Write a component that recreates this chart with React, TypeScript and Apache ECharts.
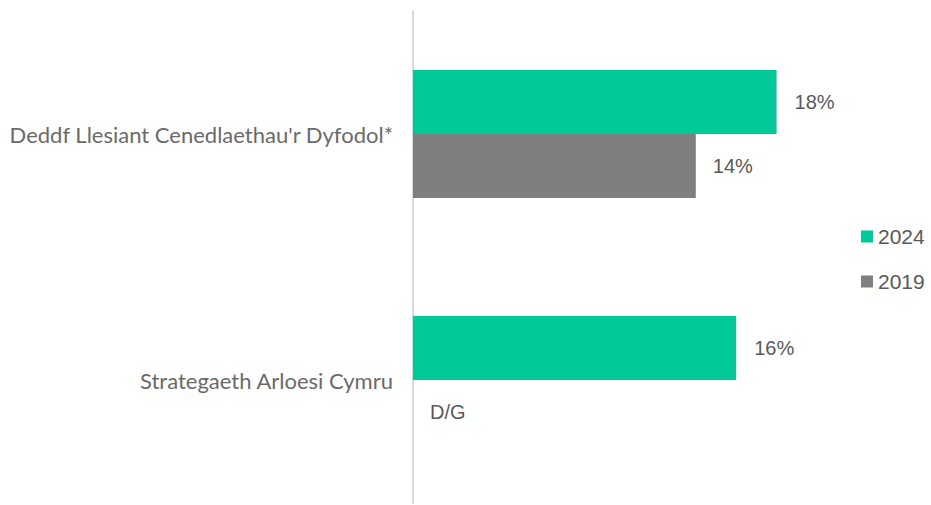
import React, { useEffect, useRef } from "react";
import * as echarts from "echarts";

const categories = ["Deddf Llesiant Cenedlaethau'r Dyfodol*", "Strategaeth Arloesi Cymru"];
const series2024 = [18, 16];
const series2019: (number | null)[] = [14, 0];
const labels2019 = ["14%", "D/G"];
const seriesNames = ["2024", "2019"];

export default function App() {
  const ref = useRef<HTMLDivElement>(null);
  useEffect(() => {
    const chart = echarts.init(ref.current!, null, { renderer: "svg" });
    chart.setOption({
      animation: false,
      grid: { left: 413, top: 11, bottom: 2, width: 404 },
      legend: {
        orient: "vertical",
        left: 861,
        top: 226,
        padding: 0,
        itemWidth: 12,
        itemHeight: 12,
        itemGap: 24,
        icon: "rect",
        textStyle: { fontFamily: "Liberation Sans", fontSize: 21, color: "#595959" },
        data: seriesNames,
      },
      xAxis: {
        type: "value",
        min: 0,
        max: 20,
        show: false,
      },
      yAxis: {
        type: "category",
        data: categories,
        inverse: true,
        axisLine: { show: true, lineStyle: { color: "#D9D9D9", width: 2 } },
        axisTick: { show: false },
        axisLabel: {
          margin: 20,
          fontFamily: "Lato",
          fontSize: 22,
          color: "#6A6A6A",
        },
      },
      series: [
        {
          name: seriesNames[0],
          type: "bar",
          data: series2024,
          barGap: "0%",
          barCategoryGap: "48%",
          itemStyle: { color: "#00C896" },
          label: {
            show: true,
            position: "right",
            distance: 18,
            formatter: (p: any) => p.value + "%",
            fontFamily: "Liberation Sans",
            fontSize: 20,
            color: "#595959",
          },
        },
        {
          name: seriesNames[1],
          type: "bar",
          data: series2019,
          barGap: "0%",
          barCategoryGap: "48%",
          itemStyle: { color: "#7F7F7F" },
          label: {
            show: true,
            position: "right",
            distance: 17,
            formatter: (p: any) => labels2019[p.dataIndex],
            fontFamily: "Liberation Sans",
            fontSize: 20,
            color: "#595959",
          },
        },
      ],
    });
    return () => chart.dispose();
  }, []);
  return <div ref={ref} style={{ width: 931, height: 505, position: "absolute", left: 0, top: 0 }} />;
}
